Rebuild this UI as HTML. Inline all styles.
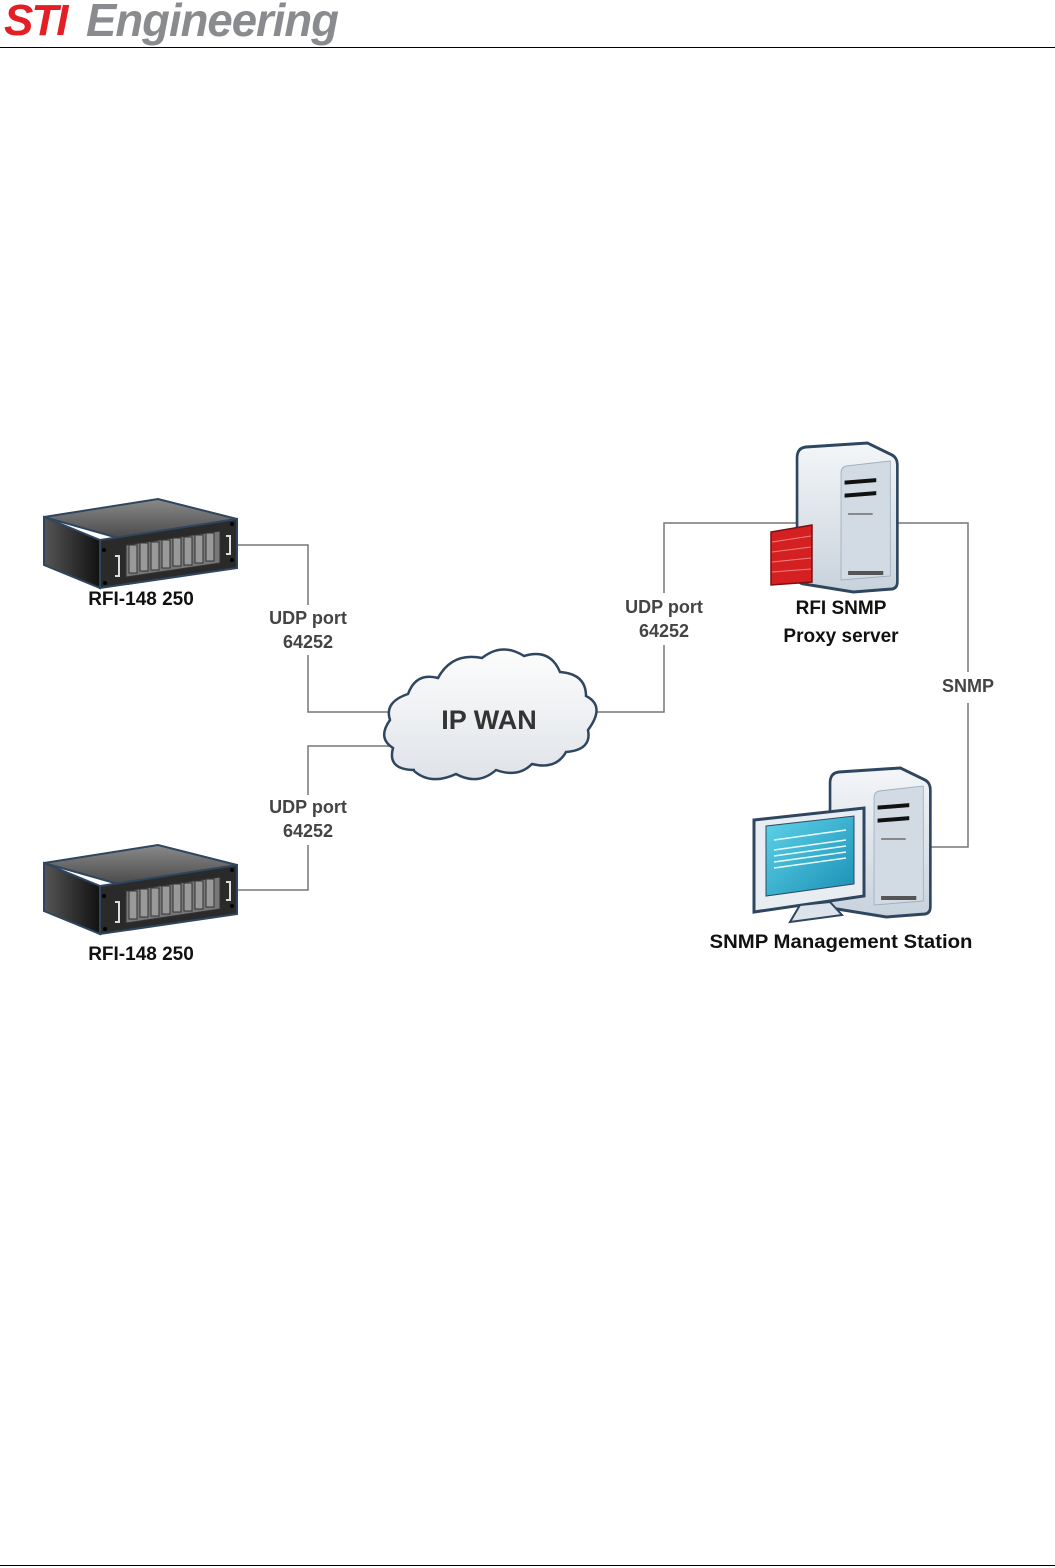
<!DOCTYPE html>
<html><head><meta charset="utf-8"><style>
body{margin:0;width:1055px;height:1568px;background:#fff;overflow:hidden;position:relative;font-family:"Liberation Sans",sans-serif}
svg{position:absolute;left:0;top:0}
</style></head><body>
<svg width="1055" height="1568" viewBox="0 0 1055 1568">
<defs>
<linearGradient id="tw" x1="0" y1="0" x2="0" y2="1"><stop offset="0" stop-color="#f4f6f8"/><stop offset="1" stop-color="#c8d2dc"/></linearGradient>
<linearGradient id="rk" x1="0" y1="0" x2="1" y2="0"><stop offset="0" stop-color="#555"/><stop offset="1" stop-color="#111"/></linearGradient>
<linearGradient id="rt" x1="0" y1="0" x2="0" y2="1"><stop offset="0" stop-color="#8a8a8a"/><stop offset="1" stop-color="#4a4a4a"/></linearGradient>
<linearGradient id="cl" x1="0" y1="0" x2="0" y2="1"><stop offset="0" stop-color="#fdfdfd"/><stop offset="1" stop-color="#dfe3e8"/></linearGradient>
<linearGradient id="scr" x1="0" y1="0" x2="1" y2="1"><stop offset="0" stop-color="#5fd3e8"/><stop offset="1" stop-color="#1a8fb5"/></linearGradient>
<g id="rack">
<polygon points="44,517 158,499 237,519 118,538" fill="url(#rt)" stroke="#2f4660" stroke-width="2"/>
<polygon points="44,517 100,540 100,588 44,565" fill="url(#rk)" stroke="#2f4660" stroke-width="2"/>
<polygon points="100,540 237,519 237,568 100,588" fill="#2a2a2a" stroke="#2f4660" stroke-width="2"/>
<polygon points="126,545 220,531 220,563 126,577" fill="#777" stroke="#333"/>
<g stroke="#333" fill="#999"><rect x="129" y="545" width="8" height="28"/><rect x="140" y="543" width="8" height="28"/><rect x="151" y="542" width="8" height="28"/><rect x="162" y="540" width="8" height="28"/><rect x="173" y="538" width="8" height="28"/><rect x="184" y="537" width="8" height="28"/><rect x="195" y="535" width="8" height="28"/><rect x="206" y="533" width="8" height="28"/></g>
<path d="M115 556 l4 0 0 20 -4 0" fill="none" stroke="#ddd" stroke-width="2"/>
<path d="M226 536 l4 0 0 18 -4 0" fill="none" stroke="#ddd" stroke-width="2"/>
<g fill="#000"><circle cx="104" cy="550" r="2"/><circle cx="105" cy="583" r="2"/><circle cx="232" cy="524" r="2"/><circle cx="232" cy="560" r="2"/></g>
</g>
<g id="tower">
<ellipse cx="80" cy="132" rx="36" ry="12" fill="#ddd"/>
<path d="M8 15 q0-10 10-11 l70-4 l28 12 q6 3 6 10 v117 q0 6-6 7 l-44 3 -56-8 q-8-1-8-8z" fill="url(#tw)" stroke="#2f4660" stroke-width="3"/>
<path d="M58 30 q0-6 6-7 l50-5 v115 l-56 4z" fill="#d2dbe4" stroke="#9fb0c0"/>
<rect x="62" y="42" width="36" height="4" fill="#111" transform="skewY(-4)"/>
<rect x="62" y="55" width="36" height="4" fill="#111" transform="skewY(-4)"/>
<rect x="66" y="70" width="28" height="2" fill="#888"/>
<rect x="66" y="128" width="40" height="4" fill="#555"/>
</g>
</defs>
<text x="4" y="35" font-family="Liberation Sans" font-weight="bold" font-style="italic" font-size="44" fill="#e31e24" letter-spacing="-2">STI</text>
<text x="86" y="36" font-family="Liberation Sans" font-weight="bold" font-style="italic" font-size="46" fill="#8a8b8e" letter-spacing="-1" textLength="252" lengthAdjust="spacingAndGlyphs">Engineering</text>
<line x1="0" y1="47.5" x2="1055" y2="47.5" stroke="#000" stroke-width="1"/>
<line x1="0" y1="1565.5" x2="1055" y2="1565.5" stroke="#000" stroke-width="1"/>
<g fill="none" stroke="#777" stroke-width="1.5">
<polyline points="238,545 308,545 308,605"/><polyline points="308,655 308,712 392,712"/>
<polyline points="238,890 308,890 308,845"/><polyline points="308,795 308,746 416,746"/>
<polyline points="592,712 664,712 664,645"/><polyline points="664,593 664,523 800,523"/>
<polyline points="897,523 968,523 968,672"/><polyline points="968,703 968,847 928,847"/>
</g>
<use href="#rack"/>
<use href="#rack" transform="translate(0,346)"/>
<use href="#tower" transform="translate(790,443) scale(0.88,1)"/>
<g stroke="#7a1010" stroke-width="1.5">
<polygon points="771,532 812,525 812,582 771,585" fill="#d42020"/>
<g stroke="#f08080" stroke-width="1"><line x1="772" y1="542" x2="811" y2="536"/><line x1="772" y1="552" x2="811" y2="547"/><line x1="772" y1="562" x2="811" y2="558"/><line x1="772" y1="572" x2="811" y2="569"/></g>
</g>
<use href="#tower" transform="translate(823,768) scale(0.88,1)"/>
<g>
<polygon points="754,820 864,808 864,896 754,912" fill="#e8edf2" stroke="#2f4660" stroke-width="3"/>
<polygon points="766,826 854,816 854,884 766,896" fill="url(#scr)" stroke="#2f4660"/>
<g stroke="#e6fbff" stroke-width="1.5"><line x1="774" y1="840" x2="846" y2="830"/><line x1="774" y1="850" x2="846" y2="840"/><line x1="774" y1="856" x2="846" y2="846"/><line x1="774" y1="862" x2="846" y2="852"/><line x1="774" y1="868" x2="846" y2="858"/></g>
<polygon points="800,905 830,902 842,915 790,922" fill="#dde3ea" stroke="#2f4660" stroke-width="2"/>
</g>
<path d="M415 770 q-28 0-22-22 q-16-10-3-28 q-6-18 18-26 q8-22 30-16 q14-26 44-20 q20-16 42-2 q26-8 36 16 q26 2 26 24 q20 10 2 34 q4 20-22 22 q-10 18-34 12 q-14 14-36 6 q-18 16-40 4 q-26 12-43-4z" fill="url(#cl)" stroke="#2f4660" stroke-width="2.5"/>
<g font-family="Liberation Sans" font-weight="bold" text-anchor="middle">
<text x="489" y="729" font-size="27" fill="#333">IP WAN</text>
<g font-size="19" fill="#111">
<text x="141" y="605">RFI-148 250</text>
<text x="141" y="960">RFI-148 250</text>
<text x="841" y="614">RFI SNMP</text>
<text x="841" y="642">Proxy server</text>
<text x="841" y="948" textLength="263" lengthAdjust="spacingAndGlyphs">SNMP Management Station</text>
</g>
<g font-size="18" fill="#444">
<text x="308" y="624">UDP port</text><text x="308" y="648">64252</text>
<text x="308" y="813">UDP port</text><text x="308" y="837">64252</text>
<text x="664" y="613">UDP port</text><text x="664" y="637">64252</text>
<text x="968" y="692">SNMP</text>
</g>
</g>
</svg>
</body></html>
